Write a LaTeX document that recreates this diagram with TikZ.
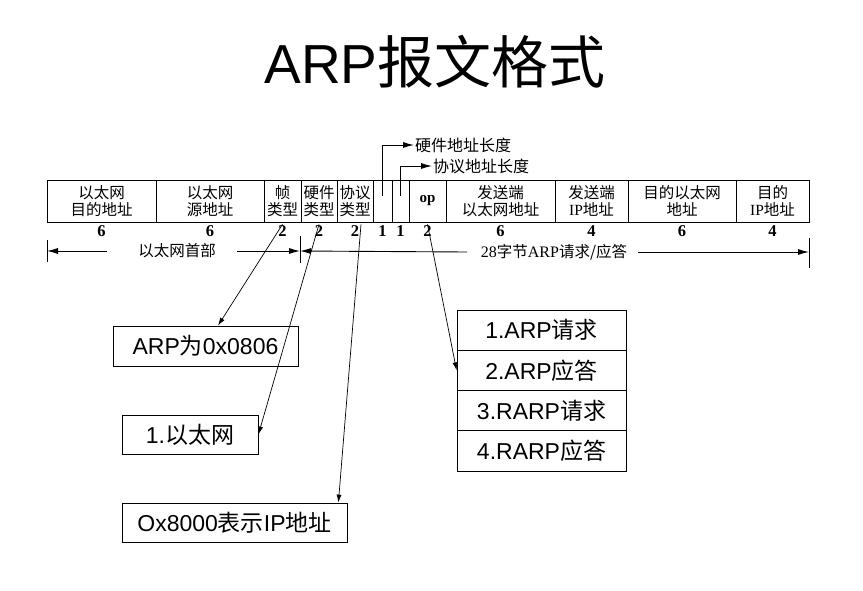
\documentclass[tikz,border=0pt]{standalone}
\usepackage{fontspec}
\setmainfont{Liberation Sans}
\newfontfamily\cjk{Noto Sans CJK SC}
\newfontfamily\serif{Liberation Serif}
\usetikzlibrary{arrows.meta,calc}
\begin{document}
\begin{tikzpicture}[x=1pt,y=-1pt,
  cell/.style={draw, line width=0.9pt, minimum height=42pt, inner sep=0pt, align=center, font=\cjk\fontsize{15.5}{16.5}\selectfont},
  num/.style={font=\serif\bfseries\fontsize{16.5}{16.5}\selectfont, inner sep=1pt},
  lab/.style={font=\cjk\fontsize{15.5}{16}\selectfont, inner sep=1pt},
  box/.style={draw, line width=0.8pt, inner sep=0pt, font=\fontsize{23}{23}\selectfont},
  arr/.style={-{Latex[length=8pt,width=5pt]}, line width=0.7pt},
  barr/.style={-{Latex[length=11pt,width=6pt]}, line width=0.9pt},
]
\useasboundingbox (0,0) rectangle (863,590);
\fill[white] (0,0) rectangle (863,590);

% title
\node[anchor=base, inner sep=0pt, font=\fontsize{55}{55}\selectfont] (title) at (435,83) {ARP{\cjk\fontsize{57}{57}\selectfont 报文格式}};

% header cells
\node[cell, minimum width=109pt] (c1) at (101.5,201) {以太网\\目的地址};
\node[cell, minimum width=108pt] (c2) at (210,201) {以太网\\源地址};
\node[cell, minimum width=37pt] (c3) at (282.5,201) {帧\\类型};
\node[cell, minimum width=36pt] (c4) at (319,201) {硬件\\类型};
\node[cell, minimum width=36pt] (c5) at (355,201) {协议\\类型};
\node[cell, minimum width=19pt] (c6) at (382.5,201) {};
\node[cell, minimum width=17pt] (c7) at (400.5,201) {};
\node[cell, minimum width=37pt, font=\serif\bfseries\fontsize{15}{15}\selectfont] (c8) at (427.5,201) {op};
\node[cell, minimum width=109pt] (c9) at (500.5,201) {发送端\\以太网地址};
\node[cell, minimum width=73pt] (c10) at (591.5,201) {发送端\\{\serif IP}地址};
\node[cell, minimum width=108pt] (c11) at (682,201) {目的以太网\\地址};
\node[cell, minimum width=73pt] (c12) at (772.5,201) {目的\\{\serif IP}地址};

% sizes
\node[num] (n1) at (101.5,231) {6};
\node[num] (n2) at (210,231) {6};
\node[num] (n3) at (282.5,231) {2};
\node[num] (n4) at (319,231) {2};
\node[num] (n5) at (355,231) {2};
\node[num] (n6) at (382.5,231) {1};
\node[num] (n7) at (400.5,231) {1};
\node[num] (n8) at (427.5,231) {2};
\node[num] (n9) at (500.5,231) {6};
\node[num] (n10) at (591.5,231) {4};
\node[num] (n11) at (682,231) {6};
\node[num] (n12) at (772.5,231) {4};

% length labels above
\coordinate (p1) at (382.5,196);
\coordinate (p2) at (400.5,196);
\node[lab, anchor=west, font=\cjk\fontsize{16}{16}\selectfont] (l1) at (414,145) {硬件地址长度};
\node[lab, anchor=west, font=\cjk\fontsize{16}{16}\selectfont] (l2) at (432,166) {协议地址长度};
\draw[barr] (p1) |- (l1.west);
\draw[barr] (p2) |- (l2.west);

% span arrows
\draw[line width=0.9pt] (47,240) -- (47,262);
\draw[line width=0.9pt] (300,236) -- (300,263);
\draw[line width=0.9pt] (809,238) -- (809,268);
\coordinate (L) at (47,251);
\coordinate (M) at (300,251);
\coordinate (R) at (809,252);
\node[lab] (h1) at (177,251) {以太网首部};
\node[lab] (h2) at (554,252) {{\serif\fontsize{16}{16}\selectfont 28}字节{\serif\fontsize{16}{16}\selectfont ARP}请求/应答};
\coordinate (h1a) at (107,251);
\coordinate (h1b) at (237,251);
\coordinate (h2a) at (467,252);
\coordinate (h2b) at (638,252);
\draw[barr] (h1a) -- (L);
\draw[barr] (h1b) -- (M);
\draw[barr] (h2a) -- (M);
\draw[barr] (h2b) -- (R);

% lower boxes
\node[box, minimum width=185pt, minimum height=40pt] (b1) at (205.5,346) {ARP{\cjk 为}0x0806};
\node[box, minimum width=136pt, minimum height=39pt] (b2) at (190,434.5) {1.{\cjk 以太网}};
\node[box, minimum width=225pt, minimum height=39pt] (b3) at (234.5,522.5) {Ox8000{\cjk 表示}IP{\cjk 地址}};

\node[box, minimum width=169pt, minimum height=40.25pt] (s1) at (541.5,330.125) {1.ARP{\cjk 请求}};
\node[box, minimum width=169pt, minimum height=40.25pt] (s2) at (541.5,370.375) {2.ARP{\cjk 应答}};
\node[box, minimum width=169pt, minimum height=40.25pt] (s3) at (541.5,410.625) {3.RARP{\cjk 请求}};
\node[box, minimum width=169pt, minimum height=40.25pt] (s4) at (541.5,450.875) {4.RARP{\cjk 应答}};

% pointer arrows
\draw[arr] (n3.north) -- ([xshift=12.5pt]b1.north);
\draw[arr] (n4.north) -- (b2.east);
\draw[arr] ([xshift=6pt]n5.north) -- ([xshift=-9pt]b3.north east);
\draw[arr] (n8.north) -- (s2.west);
\end{tikzpicture}
\end{document}
